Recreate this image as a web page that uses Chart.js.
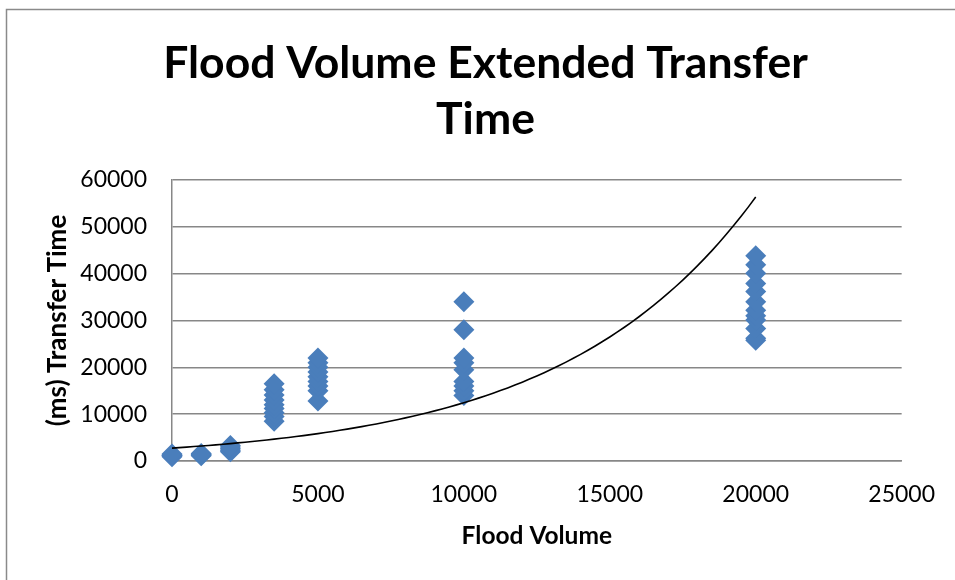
<!DOCTYPE html>
<html>
<head>
<meta charset="utf-8">
<title>Flood Volume Extended Transfer Time</title>
<script src="https://cdn.jsdelivr.net/npm/chart.js@4/dist/chart.umd.min.js"></script>
<style>
  html, body { margin: 0; padding: 0; background: #ffffff; }
  #wrap { width: 955px; height: 580px; position: relative; }
</style>
</head>
<body>
<div id="wrap"><canvas id="chart" width="955" height="580"></canvas></div>
<script>
// Measured transfer times (ms), grouped by flood volume
const floodVolumes = [0, 1000, 2000, 3500, 5000, 10000, 20000];
const timesAt0 = [900, 1100, 1200, 1300, 1500];
const timesAt1000 = [1100, 1300, 1400, 1600];
const timesAt2000 = [2000, 2300, 2600, 3000, 3300];
const timesAt3500 = [8500, 9500, 10300, 11200, 12000, 13000, 14100, 15200, 16500];
const timesAt5000 = [12800, 15000, 16000, 17000, 18000, 19000, 20000, 21000, 22000];
const timesAt10000 = [14000, 15000, 16000, 17000, 19500, 21000, 22000, 28000, 34000];
const timesAt20000 = [25800, 26200, 28300, 30100, 31000, 32200, 34000, 36200, 37900, 40100, 41900, 43800];
const timeGroups = [timesAt0, timesAt1000, timesAt2000, timesAt3500, timesAt5000, timesAt10000, timesAt20000];

// Exponential trendline y = A * e^(B * x)
const trendA = 2750;
const trendB = 1.51e-4;
const trendStep = 250;

// Axis ranges and tick spacing
const xMax = 25000, xStep = 5000;
const yMax = 60000, yStep = 10000;

// Chart title lines
const titleLines = ['Flood Volume Extended Transfer', 'Time'];

const scatterPoints = [];
floodVolumes.forEach((v, i) => {
  timeGroups[i].forEach(t => scatterPoints.push({ x: v, y: t }));
});

const trendPoints = [];
const trendEnd = floodVolumes[floodVolumes.length - 1];
for (let x = 0; x <= trendEnd; x += trendStep) {
  trendPoints.push({ x: x, y: trendA * Math.exp(trendB * x) });
}

const FONT = "Lato, 'Open Sans', sans-serif";
const GRID = '#878787';

// White background and the outer frame of the chart
const framePlugin = {
  id: 'frame',
  beforeDraw(chart) {
    const ctx = chart.ctx;
    ctx.save();
    ctx.fillStyle = '#ffffff';
    ctx.fillRect(0, 0, chart.width, chart.height);
    ctx.strokeStyle = '#8a8a8a';
    ctx.lineWidth = 1.5;
    ctx.strokeRect(6.5, 9.5, chart.width + 20, chart.height + 20);
    ctx.restore();
  }
};

// Two-line heading, centred a little right of the canvas middle
const headingPlugin = {
  id: 'heading',
  afterDraw(chart) {
    const ctx = chart.ctx;
    ctx.save();
    ctx.fillStyle = '#000000';
    ctx.font = "bold 44.5px " + FONT;
    ctx.textAlign = 'center';
    ctx.textBaseline = 'alphabetic';
    ctx.fillText(titleLines[0], 485.5, 78);
    ctx.fillText(titleLines[1], 485.5, 134);
    ctx.restore();
  }
};

new Chart(document.getElementById('chart'), {
  type: 'scatter',
  data: {
    datasets: [
      {
        label: 'Transfer Time',
        data: scatterPoints,
        pointStyle: 'rectRot',
        pointRadius: 10.5,
        pointHoverRadius: 10.5,
        backgroundColor: '#4a7ebb',
        borderColor: '#4a7ebb',
        borderWidth: 0,
        clip: false,
        order: 2
      },
      {
        type: 'line',
        label: 'Expon. trend',
        data: trendPoints,
        borderColor: '#000000',
        borderWidth: 1.6,
        pointRadius: 0,
        fill: false,
        tension: 0,
        clip: false,
        order: 1
      }
    ]
  },
  options: {
    responsive: false,
    animation: false,
    events: [],
    layout: { padding: { left: 40, right: 51, top: 180, bottom: 20 } },
    plugins: {
      legend: { display: false },
      tooltip: { enabled: false },
      title: { display: false }
    },
    scales: {
      x: {
        type: 'linear',
        min: 0,
        max: xMax,
        afterFit(s) { s.height = 580 - 461 - 20; },
        ticks: {
          stepSize: xStep,
          color: '#000000',
          font: { family: FONT, size: 23 },
          padding: 20,
          maxRotation: 0,
          callback: v => String(v)
        },
        grid: { display: false, drawTicks: false },
        border: { display: true, color: GRID, width: 1.5 },
        title: {
          display: true,
          text: 'Flood Volume',
          color: '#000000',
          font: { family: FONT, size: 24.5, weight: 'bold' },
          padding: { top: 0, bottom: 9 }
        }
      },
      y: {
        type: 'linear',
        min: 0,
        max: yMax,
        afterFit(s) { s.width = 172 - 40; },
        ticks: {
          stepSize: yStep,
          color: '#000000',
          font: { family: FONT, size: 23 },
          padding: 25,
          callback: v => String(v)
        },
        grid: { color: GRID, lineWidth: 1.5, drawTicks: false },
        border: { display: true, color: GRID, width: 1.5 },
        title: {
          display: true,
          text: '(ms) Transfer Time',
          color: '#000000',
          font: { family: FONT, size: 26, weight: 'bold' },
          padding: { top: 2, bottom: 0 }
        }
      }
    }
  },
  plugins: [framePlugin, headingPlugin]
});
</script>
</body>
</html>
